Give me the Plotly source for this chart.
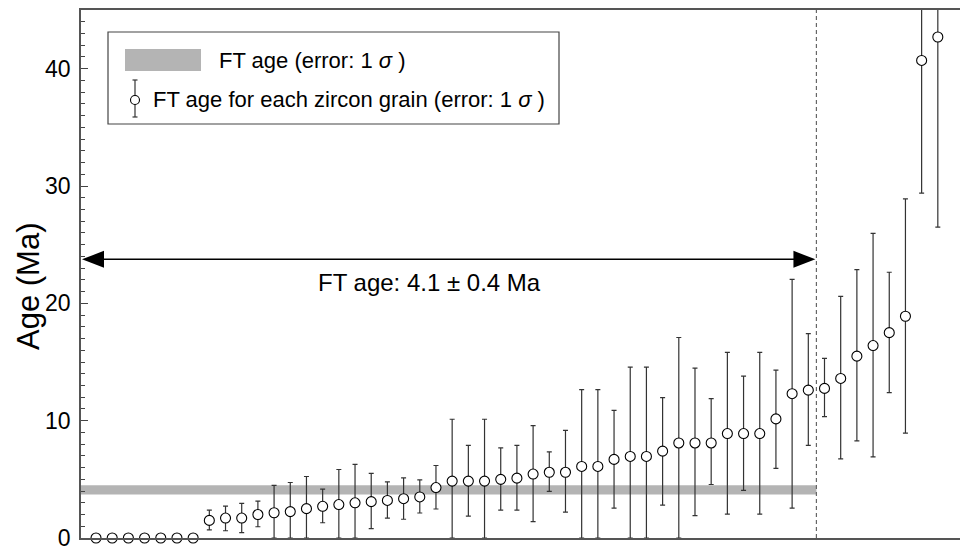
import plotly.graph_objects as go

# ---- data ----
grain = list(range(1, 54))
age = [0, 0, 0, 0, 0, 0, 0,
       1.5, 1.7, 1.7, 2.0, 2.15, 2.25, 2.5, 2.7, 2.85, 3.0, 3.1, 3.2, 3.35, 3.5,
       4.3, 4.85, 4.85, 4.85, 5.0, 5.1, 5.45, 5.6, 5.6, 6.1, 6.1, 6.7, 6.95, 6.95,
       7.4, 8.1, 8.1, 8.1, 8.9, 8.9, 8.9, 10.15, 12.3, 12.6, 12.75, 13.6, 15.5,
       16.4, 17.5, 18.9, 40.7, 42.7]
upper = [0, 0, 0, 0, 0, 0, 0,
         2.38, 2.72, 2.95, 3.15, 4.48, 4.73, 5.24, 4.17, 5.84, 6.27, 5.5, 4.79, 5.13, 4.96,
         6.18, 10.12, 7.9, 10.12, 7.68, 7.9, 9.58, 7.34, 9.18, 12.64, 12.64, 10.88, 14.57, 14.57,
         11.96, 17.09, 14.48, 11.88, 15.82, 13.8, 15.82, 14.31, 22.05, 17.41, 15.31, 20.6, 22.87,
         25.96, 22.65, 28.9, 55.0, 58.0]
lower = [0, 0, 0, 0, 0, 0, 0,
         0.7, 0.62, 0.45, 0.96, 0.0, 0.0, 0.0, 1.3, 0.0, 0.0, 0.8, 1.7, 1.6, 2.13,
         2.47, 0.0, 1.87, 0.0, 2.38, 2.38, 1.39, 3.97, 2.21, 0.0, 0.0, 2.55, 0.0, 0.0,
         2.8, 0.0, 1.9, 4.56, 2.04, 4.06, 2.04, 5.93, 2.55, 7.9, 10.35, 6.74, 8.27,
         6.91, 12.39, 8.93, 29.4, 26.5]
ft_age = 4.1
ft_err = 0.4
n_central = 45           # grains used for the central FT age
y_ticks = [0, 10, 20, 30, 40]
arrow_y = 23.75
label_text = "FT age: 4.1 ± 0.4 Ma"

FONT = "Liberation Sans, Arial, sans-serif"
X_MIN, X_MAX = 0.073, 54.37
W, H = 960, 552
L, R, T, B = 81, 0, 10, 14
PW, PH = W - L - R, H - T - B


def px(x):
    return (x - L) / PW


def py(y):
    return (H - B - y) / PH


zero_x = [g for g, a in zip(grain, age) if a == 0]
zero_y = [a for a in age if a == 0]
nz = [(g, a, u, lo) for g, a, u, lo in zip(grain, age, upper, lower) if a != 0]
nx = [v[0] for v in nz]
ny = [v[1] for v in nz]
eplus = [v[2] - v[1] for v in nz]
eminus = [v[1] - v[3] for v in nz]

marker = dict(symbol="circle", size=10, color="white", line=dict(color="black", width=1.1))

fig = go.Figure()
fig.add_trace(go.Scatter(
    x=nx, y=ny, mode="markers", marker=marker, cliponaxis=True,
    error_y=dict(type="data", symmetric=False, array=eplus, arrayminus=eminus,
                 color="#333333", thickness=1.2, width=2.5),
    showlegend=False, hoverinfo="x+y"))
fig.add_trace(go.Scatter(
    x=zero_x, y=zero_y, mode="markers", marker=marker, cliponaxis=False,
    showlegend=False, hoverinfo="x+y"))

sep_x = n_central + 0.5
shapes = [
    dict(type="rect", xref="x", yref="y", x0=X_MIN, x1=sep_x,
         y0=ft_age - ft_err, y1=ft_age + ft_err,
         fillcolor="#b4b4b4", line=dict(width=0), layer="below"),
    dict(type="line", xref="x", yref="paper", x0=sep_x, x1=sep_x, y0=0, y1=1,
         line=dict(color="#666666", width=1.2, dash="4px,3px")),
    dict(type="line", xref="x", yref="y", x0=X_MIN + 0.5, x1=sep_x - 0.5,
         y0=arrow_y, y1=arrow_y, line=dict(color="black", width=1.5)),
    dict(type="path", xref="x", yref="y", xsizemode="pixel", ysizemode="pixel",
         xanchor=X_MIN, yanchor=arrow_y, path="M1,0 L23,8.5 L23,-8.5 Z",
         fillcolor="black", line=dict(width=0)),
    dict(type="path", xref="x", yref="y", xsizemode="pixel", ysizemode="pixel",
         xanchor=sep_x, yanchor=arrow_y, path="M-1,0 L-23,8.5 L-23,-8.5 Z",
         fillcolor="black", line=dict(width=0)),
    # legend box
    dict(type="rect", xref="paper", yref="paper", x0=px(108), x1=px(559),
         y0=py(124), y1=py(32), line=dict(color="#444444", width=1.2),
         fillcolor="white"),
    dict(type="rect", xref="paper", yref="paper", x0=px(125), x1=px(201),
         y0=py(71), y1=py(49), line=dict(width=0), fillcolor="#b4b4b4"),
    dict(type="line", xref="paper", yref="paper", x0=px(135), x1=px(135),
         y0=py(117), y1=py(80), line=dict(color="#333333", width=1.2)),
    dict(type="line", xref="paper", yref="paper", x0=px(132.5), x1=px(137.5),
         y0=py(80), y1=py(80), line=dict(color="#333333", width=1.2)),
    dict(type="line", xref="paper", yref="paper", x0=px(132.5), x1=px(137.5),
         y0=py(117), y1=py(117), line=dict(color="#333333", width=1.2)),
    dict(type="circle", xref="paper", yref="paper", xsizemode="pixel", ysizemode="pixel",
         xanchor=px(135), yanchor=py(100), x0=-4.5, x1=4.5, y0=-4.5, y1=4.5,
         fillcolor="white", line=dict(color="black", width=1.1)),
]

annotations = [
    dict(text=label_text, x=px(429.5), y=21.8, xref="paper", yref="y", showarrow=False,
         font=dict(family=FONT, size=24, color="black"), xanchor="center", yanchor="middle"),
    dict(text="FT age (error: 1 <i>σ</i> )", x=px(217), y=py(61), xref="paper", yref="paper",
         showarrow=False, xanchor="left", yanchor="middle",
         font=dict(family=FONT, size=22, color="black")),
    dict(text="FT age for each zircon grain (error: 1 <i>σ</i> )", x=px(151), y=py(100),
         xref="paper", yref="paper", showarrow=False, xanchor="left", yanchor="middle",
         font=dict(family=FONT, size=22, color="black")),
    dict(text="Age (Ma)", x=px(28), y=py(287), xref="paper", yref="paper", showarrow=False,
         textangle=-90, xanchor="center", yanchor="middle",
         font=dict(family=FONT, size=31, color="black")),
]

fig.update_layout(
    width=W, height=H, margin=dict(l=L, r=R, t=T, b=B, pad=0),
    paper_bgcolor="white", plot_bgcolor="white",
    shapes=shapes, annotations=annotations, showlegend=False,
    xaxis=dict(range=[X_MIN, X_MAX], showgrid=False, zeroline=False, showticklabels=False,
               ticks="", showline=True, linecolor="#555555", linewidth=1.5, mirror=True),
    yaxis=dict(range=[0, 45], showgrid=False, zeroline=False, tickvals=y_ticks,
               ticks="inside", ticklen=7, tickwidth=1, tickcolor="#444444",
               showline=True, linecolor="#555555", linewidth=1.5, mirror=False,
               ticklabelstandoff=4,
               tickfont=dict(family=FONT, size=23, color="black"),
               minor=dict(dtick=1, ticks="inside", ticklen=4, tickwidth=1, tickcolor="#444444")),
)

fig.write_html("out.html")
